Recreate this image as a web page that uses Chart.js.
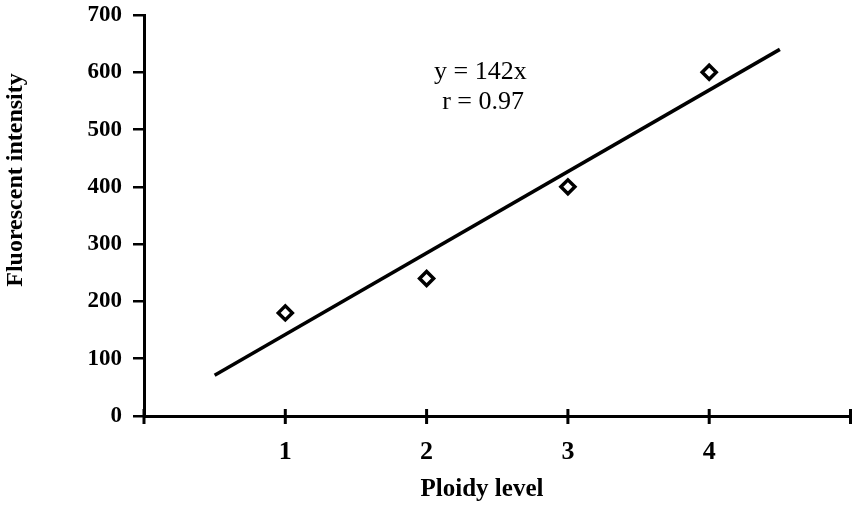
<!DOCTYPE html>
<html>
<head>
<meta charset="utf-8">
<script src="https://cdn.jsdelivr.net/npm/chart.js@4.4.0/dist/chart.umd.min.js"></script>
<style>
  html, body { margin: 0; padding: 0; background: #fff; }
  #wrap { width: 861px; height: 506px; }
</style>
</head>
<body>
<div id="wrap"><canvas id="grafico" width="861" height="506"></canvas></div>
<script>
// datos
const ploidia = [1, 2, 3, 4];
const intensidad = [180, 240, 400, 600];
const rectaX = [0.5, 4.5];
const rectaY = [71, 640];
const ticksY = [0, 100, 200, 300, 400, 500, 600, 700];
const ticksX = [0, 1, 2, 3, 4, 5];
const textoEcuacion = ["y = 142x", "r = 0.97"];
const tituloX = "Ploidy level";
const tituloY = "Fluorescent intensity";

const fuenteSerif = "'Liberation Serif', 'DejaVu Serif', serif";

// marcas del eje x que cruzan la linea, ecuacion y titulos de ejes
const extras = {
  id: "extras",
  afterDraw(chart) {
    const ctx = chart.ctx;
    const sx = chart.scales.x, sy = chart.scales.y;
    const y0 = sy.getPixelForValue(0);
    ctx.save();
    ctx.strokeStyle = "#000";
    ctx.lineWidth = 3;
    ticksX.forEach(v => {
      const px = sx.getPixelForValue(v);
      ctx.beginPath();
      ctx.moveTo(px, y0 - 7);
      ctx.lineTo(px, y0 + 8);
      ctx.stroke();
    });
    ctx.fillStyle = "#000";
    ctx.textAlign = "center";
    ctx.textBaseline = "middle";
    ctx.font = "26px " + fuenteSerif;
    ctx.fillText(textoEcuacion[0], sx.getPixelForValue(2.38), sy.getPixelForValue(600));
    ctx.fillText(textoEcuacion[1], sx.getPixelForValue(2.40), sy.getPixelForValue(548));

    ctx.font = "bold 25px " + fuenteSerif;
    ctx.fillText(tituloX, 482, 490);
    ctx.translate(16, 180);
    ctx.rotate(-Math.PI / 2);
    ctx.font = "bold 24px " + fuenteSerif;
    ctx.fillText(tituloY, 0, 0);
    ctx.restore();
  }
};

new Chart(document.getElementById("grafico"), {
  type: "scatter",
  data: {
    datasets: [
      {
        label: "Recta",
        type: "line",
        data: rectaX.map((x, i) => ({ x: x, y: rectaY[i] })),
        borderColor: "#000",
        borderWidth: 3.5,
        pointRadius: 0,
        fill: false
      },
      {
        label: "Datos",
        data: ploidia.map((x, i) => ({ x: x, y: intensidad[i] })),
        pointStyle: "rectRot",
        pointRadius: 7,
        backgroundColor: "#fff",
        borderColor: "#000",
        borderWidth: 3.5
      }
    ]
  },
  options: {
    responsive: false,
    animation: false,
    layout: { padding: { top: 15, right: 8, left: 0, bottom: 0 } },
    plugins: {
      legend: { display: false },
      tooltip: { enabled: false }
    },
    scales: {
      x: {
        type: "linear",
        min: 0,
        max: 5,
        afterBuildTicks: s => { s.ticks = ticksX.map(v => ({ value: v })); },
        afterFit: s => { s.height = 90; s.paddingLeft = 0; s.paddingRight = 0; },
        border: { color: "#000", width: 3 },
        grid: { drawOnChartArea: false, drawTicks: false },
        ticks: {
          padding: 21,
          color: "#000",
          font: { family: fuenteSerif, size: 26, weight: "bold" },
          callback: v => (v >= 1 && v <= 4) ? String(v) : ""
        }
      },
      y: {
        type: "linear",
        min: 0,
        max: 700,
        afterBuildTicks: s => { s.ticks = ticksY.map(v => ({ value: v })); },
        afterFit: s => { s.width = 144; s.paddingTop = 0; s.paddingBottom = 0; },
        border: { color: "#000", width: 3 },
        grid: { drawOnChartArea: false, tickLength: 11, color: "#000", lineWidth: 2.5 },
        ticks: {
          padding: 11,
          color: "#000",
          font: { family: fuenteSerif, size: 23, weight: "bold" }
        }
      }
    }
  },
  plugins: [extras]
});
</script>
</body>
</html>
